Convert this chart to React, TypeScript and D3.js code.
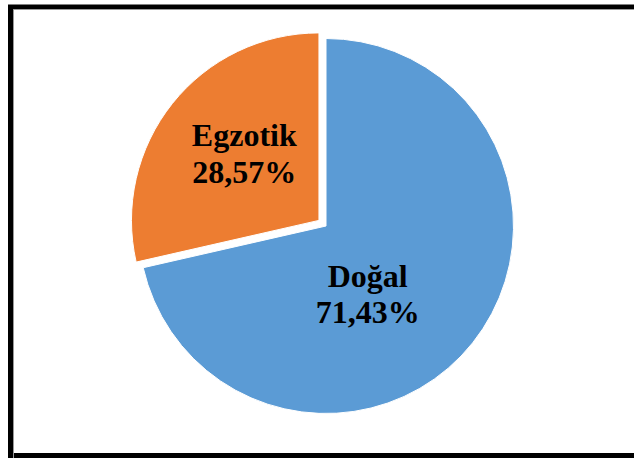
import React from "react";
import * as d3 from "d3";

const categories: string[] = ["Doğal", "Egzotik"];
const values: number[] = [71.43, 28.57];
const labels: string[] = ["71,43%", "28,57%"];
const colors: string[] = ["#5B9BD5", "#ED7D31"];
const exploded: boolean[] = [false, true];

const W = 634;
const H = 458;
const cx = 326;
const cy = 226;
const R = 187.5;
const explodeDist = 9;
const labelNudge: [number, number][] = [[-36, 7], [3, -4]];
const FONT = "'Liberation Serif', 'Times New Roman', Tinos, serif";

export default function App() {
  const pie = d3.pie<number>().sort(null).value((d) => d)(values);
  const arc = d3.arc<d3.PieArcDatum<number>>().innerRadius(0).outerRadius(R);
  const labelArc = d3.arc<d3.PieArcDatum<number>>().innerRadius(0).outerRadius(R * 1.06);

  return (
    <svg
      width={W}
      height={H}
      style={{ position: "absolute", left: 0, top: 0, display: "block", background: "#fff" }}
    >
      <rect x={0} y={0} width={W} height={H} fill="#fff" />
      {pie.map((p, i) => {
        const mid = (p.startAngle + p.endAngle) / 2;
        const off = exploded[i] ? explodeDist : 0;
        const ox = Math.sin(mid) * off;
        const oy = -Math.cos(mid) * off;
        const [lx, ly] = labelArc.centroid(p);
        const tx = lx + labelNudge[i][0];
        const ty = ly + labelNudge[i][1];
        return (
          <g key={categories[i]} transform={`translate(${cx + ox},${cy + oy})`}>
            <path d={arc(p) || ""} fill={colors[i]} stroke="#fff" strokeWidth={1} />
            <text
              x={tx}
              y={ty}
              textAnchor="middle"
              style={{ fontFamily: FONT, fontWeight: 700, fontSize: "32px" }}
              fill="#000"
            >
              <tspan x={tx} dy={-8}>{categories[i]}</tspan>
              <tspan x={tx} dy={36.3}>{labels[i]}</tspan>
            </text>
          </g>
        );
      })}
      <rect x={10.5} y={7} width={640} height={448.5} fill="none" stroke="#000" strokeWidth={5} />
      <path d={`M13.5,${H}V9.5H${W}`} fill="none" stroke="#999" strokeWidth={1} />
    </svg>
  );
}
